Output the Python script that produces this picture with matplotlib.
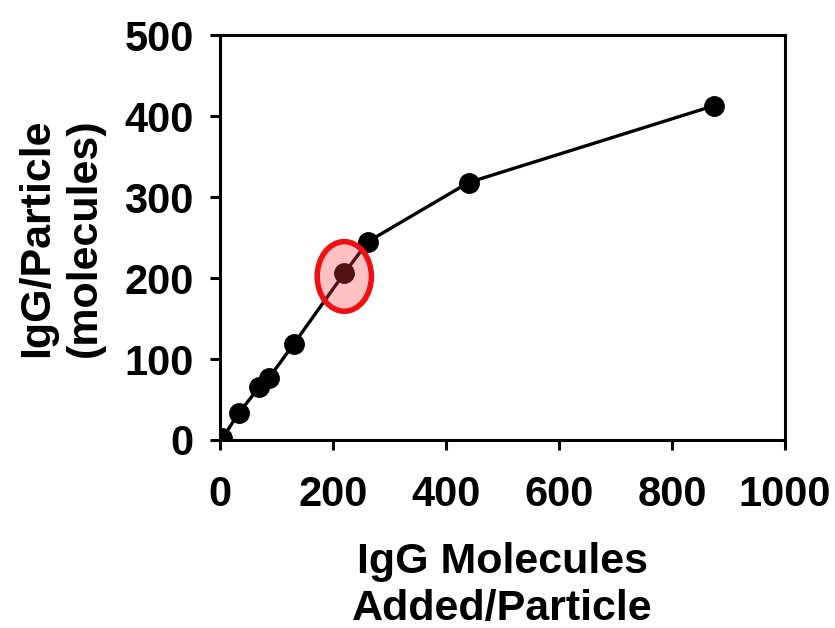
import matplotlib
matplotlib.use("Agg")
import matplotlib.pyplot as plt
from matplotlib.patches import Ellipse

# Data
igg_added = [4, 33, 69, 87, 131, 220, 262, 440, 875]
igg_bound = [2, 33, 65, 77, 119, 206, 245, 318, 413]

# highlighted point
hl_x, hl_y = 220, 206

plt.rcParams["font.family"] = ["Liberation Sans", "DejaVu Sans"]
plt.rcParams["font.weight"] = "bold"

fig = plt.figure(figsize=(8.35, 6.28), dpi=100)
ax = fig.add_axes([0.2635, 0.2994, 0.6765, 0.6446])

ax.plot(igg_added, igg_bound, color="black", linewidth=2.4,
        marker="o", markersize=14, markerfacecolor="black", markeredgecolor="black")

# red ellipse round the highlighted point
ell = Ellipse((hl_x, hl_y - 4), width=96, height=86, facecolor=(1.0, 0.25, 0.25, 0.32),
              edgecolor="#ee1111", linewidth=4, zorder=5)
ax.add_patch(ell)

ax.set_xlim(0, 1000)
ax.set_ylim(0, 500)
ax.set_xticks([0, 200, 400, 600, 800, 1000])
ax.set_yticks([0, 100, 200, 300, 400, 500])

for sp in ax.spines.values():
    sp.set_linewidth(2.2)

ax.tick_params(direction="out", length=7, width=2.2, labelsize=30)
ax.tick_params(axis="x", pad=18)
ax.tick_params(axis="y", pad=12)
for lab in ax.get_xticklabels() + ax.get_yticklabels():
    lab.set_fontweight("bold")

ax.set_xlabel("IgG Molecules\nAdded/Particle", fontsize=31, fontweight="bold", labelpad=20,
              linespacing=1.2)
ax.set_ylabel("IgG/Particle\n(molecules)", fontsize=31, fontweight="bold", labelpad=14,
              linespacing=1.25)

fig.savefig("out.png", dpi=100)
